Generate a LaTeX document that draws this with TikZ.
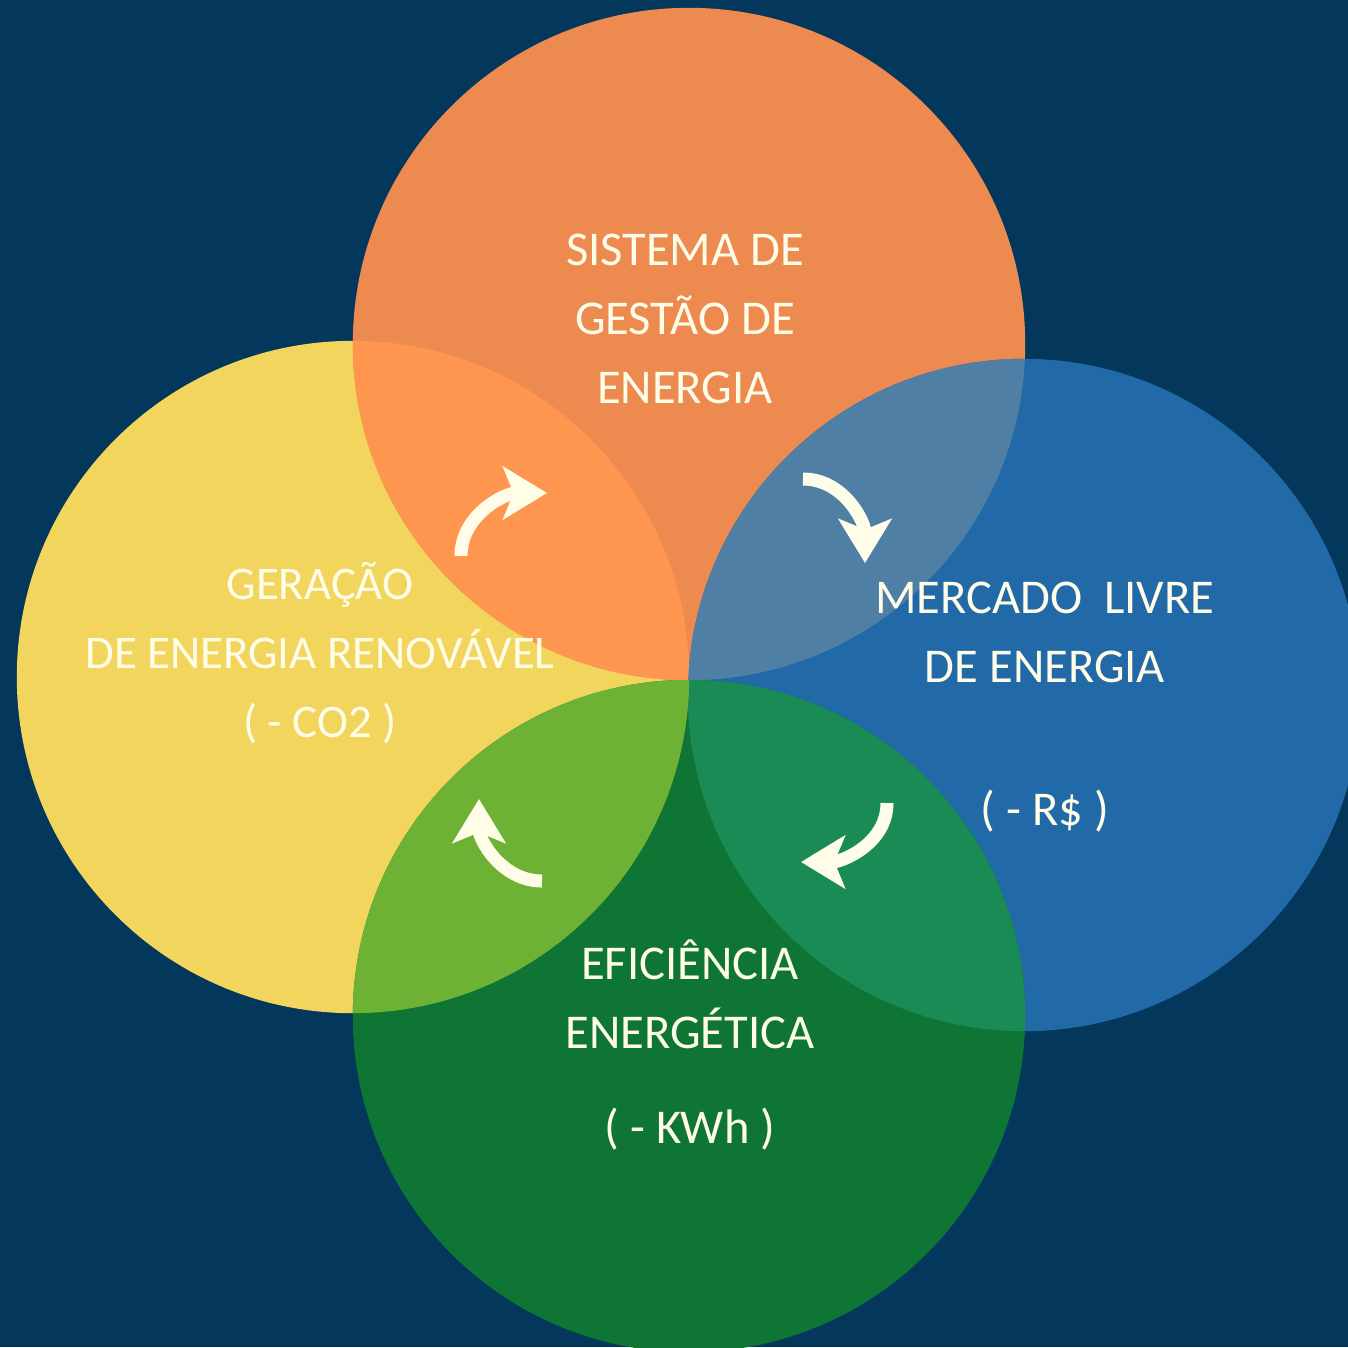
\documentclass[tikz,border=0pt]{standalone}
\usepackage{fontspec}
\setmainfont{Carlito}
\usepackage{xcolor}
\definecolor{navy}{RGB}{3,55,92}
\definecolor{sgeorange}{RGB}{236,138,79}
\definecolor{geryellow}{RGB}{241,213,93}
\definecolor{merblue}{RGB}{34,105,167}
\definecolor{efigreen}{RGB}{14,117,53}
\definecolor{lensoy}{RGB}{255,150,80}
\definecolor{lensob}{RGB}{80,127,166}
\definecolor{lensbg}{RGB}{26,139,85}
\definecolor{lensyg}{RGB}{109,177,53}
\definecolor{cream}{RGB}{255,253,232}
\usetikzlibrary{arrows.meta}
\tikzset{
  >={Stealth[length=12.5pt,width=15pt,inset=3pt]},
  disc/.style={circle,inner sep=0pt,outer sep=0pt,minimum size=6.72cm},
  caption/.style={text=cream,align=center,font=\fontsize{13.8}{19.6}\selectfont},
  flow/.style={->,draw=cream,line width=3.7pt}
}

\begin{document}
\begin{tikzpicture}[x=0.01cm,y=-0.01cm]
  \fill[navy] (0,0) rectangle (1348,1347);
  \useasboundingbox (0,0) rectangle (1348,1347);
  \clip (0,0) rectangle (1348,1347);

  % the four discs
  \node[disc,fill=geryellow] (geracao) at (353,677) {};
  \node[disc,fill=sgeorange] (sge) at (689,344) {};
  \node[disc,fill=merblue] (mercado) at (1024,695) {};
  \node[disc,fill=efigreen] (eficiencia) at (689,1016) {};

  % overlaps
  \begin{scope}
    \clip (geracao.center) circle[radius=3.36cm];
    \fill[lensoy] (sge.center) circle[radius=3.36cm];
  \end{scope}
  \begin{scope}
    \clip (mercado.center) circle[radius=3.36cm];
    \fill[lensob] (sge.center) circle[radius=3.36cm];
  \end{scope}
  \begin{scope}
    \clip (mercado.center) circle[radius=3.36cm];
    \fill[lensbg] (eficiencia.center) circle[radius=3.36cm];
  \end{scope}
  \begin{scope}
    \clip (geracao.center) circle[radius=3.36cm];
    \fill[lensyg] (eficiencia.center) circle[radius=3.36cm];
  \end{scope}

  \node[caption] (sgetxt) at (685,319) {SISTEMA DE\\GESTÃO DE\\ENERGIA};
  \node[caption,font=\fontsize{13.3}{19.6}\selectfont] (gertxt) at (320,653) {GERAÇÃO\\DE ENERGIA RENOVÁVEL\\( - CO2 )};
  \node[caption] (mertxt) at (1045,707) {MERCADO\ \ LIVRE\\DE ENERGIA\\[21pt]( - R\$ )};
  \node[caption] (efitxt) at (690,1045) {EFICIÊNCIA\\ENERGÉTICA\\[7.5pt]( - KWh )};

  % cycle arrows
  \coordinate (a1s) at (461,556);
  \coordinate (a1e) at (547,493);
  \coordinate (a2s) at (803,479);
  \coordinate (a2e) at (865,563);
  \coordinate (a3s) at (887,803);
  \coordinate (a3e) at (801,862);
  \coordinate (a4s) at (542,881);
  \coordinate (a4e) at (479,799);

  \draw[flow] (a1s) to[out=90,in=180] (a1e);
  \draw[flow] (a2s) to[out=0,in=90] (a2e);
  \draw[flow] (a3s) to[out=-90,in=0] (a3e);
  \draw[flow] (a4s) to[out=180,in=-90] (a4e);
\end{tikzpicture}
\end{document}
